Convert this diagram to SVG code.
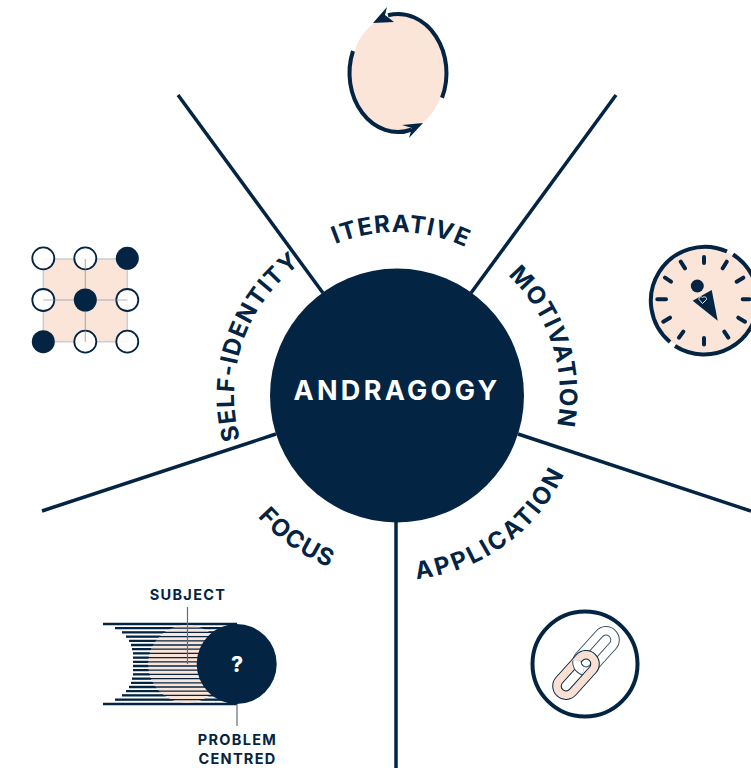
<svg xmlns="http://www.w3.org/2000/svg" width="751" height="768" viewBox="0 0 751 768">
<style>
text{font-family:"Inter","Liberation Sans",sans-serif;fill:#042443;font-weight:700}
.arc{font-size:24px;letter-spacing:1.2px;text-anchor:middle}
.small{font-size:14.5px;font-weight:700;letter-spacing:1.3px;text-anchor:middle}
.ray{fill:none;stroke:#042443;stroke-width:3.5}
.navy{fill:#042443}
.pale{fill:#fbe4d8}
.open{fill:#fff;fill-opacity:.88;stroke:#042443;stroke-width:1.8}
.grid{fill:none;stroke:#7f8a96;stroke-opacity:.6;stroke-width:1.2}
.tick{stroke:#042443;stroke-width:4;stroke-linecap:round}
.lead{stroke:#5d6f82;stroke-width:1.2}
.loop{fill:none;stroke:#042443;stroke-width:4}
.stripes{fill:none;stroke:#042443}
</style>
<defs>
<path id="topArc" d="M255.800 476.500A163 163 0 1 1 538.200 476.500" fill="none"/>
<path id="botArc" d="M236.800 487.500A185 185 0 0 0 557.200 487.500" fill="none"/>
<clipPath id="over"><circle cx="576" cy="668" r="8"/></clipPath>
<clipPath id="outsidePale"><path clip-rule="evenodd" d="M90 615H240V715H90ZM148 664A39 39 0 0 0 226 664A39 39 0 0 0 148 664Z"/></clipPath>
<rect id="linkShape" x="-9" y="-24" width="18" height="48" rx="9"/>
<path id="stripeSet" d="M103 624H237M115 628.200H237M122 632.400H237M126 636.600H237M129 640.800H237M131 645H237M132 649.200H237M133 653.400H237M133 657.600H237M133 661.800H237M133 666H237M133 670.200H237M133 674.400H237M132 678.600H237M131 682.800H237M129 687H237M126 691.200H237M122 695.400H237M115 699.600H237M103 704H237"/>
</defs>
<g id="connectors">
<path class="ray" d="M178 95L323 293"/>
<path class="ray" d="M616 95L471 293"/>
<path class="ray" d="M42 511L276 434"/>
<path class="ray" d="M751 511L518 434"/>
<path class="ray" d="M396 522V768"/>
</g>
<g id="hub">
<circle class="navy" cx="397" cy="395.500" r="127"/>
<text x="397" y="400" text-anchor="middle" style="font-size:27px;fill:#fff;letter-spacing:3.300px">ANDRAGOGY</text>
</g>
<g id="iterative">
<text class="arc" transform="rotate(1.500 397 395)"><textPath href="#topArc" startOffset="50%">ITERATIVE</textPath></text>
<ellipse class="pale" cx="398" cy="73" rx="47" ry="58"/>
<path class="loop" d="M388 15.300A48.500 59 0 0 1 442 97.800"/>
<path class="loop" d="M353 51A48.500 59 0 0 0 412 129.500"/>
<path class="navy" d="M387 7L373 23L394 22L385 15Z"/>
<path class="navy" d="M402 125L423 123L409 138L412 128Z"/>
</g>
<g id="motivation">
<text class="arc" transform="rotate(72 397 395)"><textPath href="#topArc" startOffset="50%">MOTIVATION</textPath></text>
<circle class="pale" cx="704" cy="300" r="53"/>
<path d="M727 251.500A54 54 0 0 0 670 342" fill="none" stroke="#042443" stroke-width="4"/>
<path d="M675 346A54 54 0 0 0 758 300A54 54 0 0 0 733 254.500" fill="none" stroke="#042443" stroke-width="4"/>
<path class="tick" d="M704 257V263M726.700 261.700L722.700 268.300M743.300 277.700L736.700 281.700M749.300 299.300H742.700M745 321.700L738.300 317.700M728.300 337.700L724.300 331.700M704 344.500V338M679 337.700L683.300 331.700M663.300 321.700L670 317.700M657.300 299.300H666M665 277.700L671 281.700M680.700 261.700L685 268.300"/>
<circle class="navy" cx="697.300" cy="286" r="6.500"/>
<path class="navy" d="M692.700 300.700L711.700 290L717.700 320.700Z"/>
<path d="M702.500 303.500L699 299.500C698.500 297 701.500 296 702.500 297.500C704 296 707 297 706.500 299.500Z" fill="none" stroke="#fff" stroke-width=".9"/>
</g>
<g id="self-identity">
<text class="arc" transform="rotate(-71 397 395)"><textPath href="#topArc" startOffset="50%">SELF-IDENTITY</textPath></text>
<rect class="pale" x="43.300" y="259" width="84" height="82.700" stroke="#c9ced3" stroke-width="1.500"/>
<circle class="open" cx="43.300" cy="258.300" r="11"/>
<circle class="open" cx="85.300" cy="258.300" r="11"/>
<circle class="open" cx="43.300" cy="300" r="11"/>
<circle class="open" cx="127.300" cy="300" r="11"/>
<circle class="open" cx="85.300" cy="341.700" r="11"/>
<circle class="open" cx="127.300" cy="341.700" r="11"/>
<path class="grid" d="M85.300 259V341.700M43.300 300H127.300"/>
<circle class="navy" cx="127.300" cy="258.300" r="11.500"/>
<circle class="navy" cx="85.300" cy="300" r="11.500"/>
<circle class="navy" cx="43.300" cy="341.700" r="11.500"/>
</g>
<g id="focus">
<text class="arc" transform="rotate(35 397 395)"><textPath href="#botArc" startOffset="50%">FOCUS</textPath></text>
<circle class="pale" cx="187" cy="664" r="39"/>
<use href="#stripeSet" class="stripes" stroke-width="1.300"/>
<g clip-path="url(#outsidePale)"><use href="#stripeSet" class="stripes" stroke-width="2.300"/></g>
<path class="lead" d="M187.500 607V664M237 704V726"/>
<circle class="navy" cx="236.700" cy="664" r="40"/>
<text x="237" y="672" text-anchor="middle" style="font-size:21px;font-weight:800;fill:#fff">?</text>
<text class="small" x="188" y="600">SUBJECT</text>
<text class="small" x="237.500" y="745">PROBLEM</text>
<text class="small" x="237.500" y="764">CENTRED</text>
</g>
<g id="application">
<text class="arc" style="letter-spacing:2.700px" transform="rotate(-35.800 397 395)"><textPath href="#botArc" startOffset="50%">APPLICATION</textPath></text>
<circle cx="585" cy="664" r="52.500" fill="#fff" stroke="#042443" stroke-width="4"/>
<g transform="translate(596 651) rotate(42)">
<use href="#linkShape" fill="none" stroke="#3d5268" stroke-width="9.500"/>
<use href="#linkShape" fill="none" stroke="#fff" stroke-width="7.500"/>
</g>
<g transform="translate(576 675) rotate(42)">
<use href="#linkShape" fill="none" stroke="#042443" stroke-width="9.500"/>
<use href="#linkShape" fill="none" stroke="#fae0d2" stroke-width="7.500"/>
</g>
<g clip-path="url(#over)">
<g transform="translate(596 651) rotate(42)">
<use href="#linkShape" fill="none" stroke="#3d5268" stroke-width="9.500"/>
<use href="#linkShape" fill="none" stroke="#fff" stroke-width="7.500"/>
</g>
</g>
</g>
</svg>
